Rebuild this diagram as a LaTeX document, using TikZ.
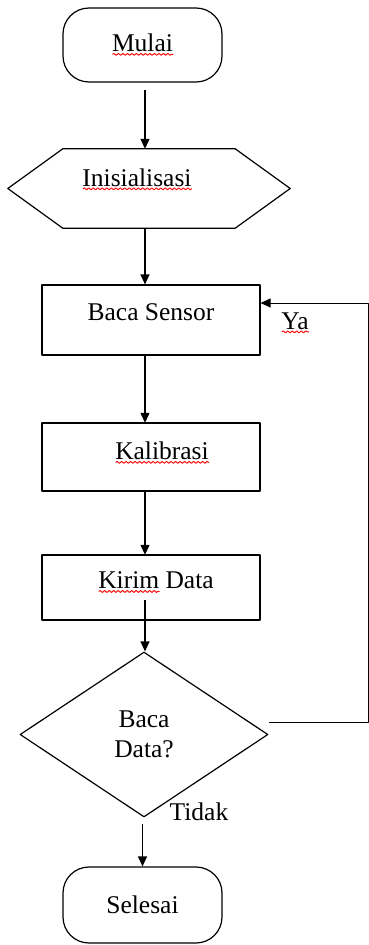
\documentclass[tikz,border=0pt]{standalone}
\usepackage{fontspec}
\setmainfont{Liberation Serif}
\usetikzlibrary{shapes.geometric,arrows.meta,decorations.pathmorphing}
\newdimen\lebarsalah
\newcommand\salah[1]{\setbox0=\hbox{#1}\lebarsalah=\wd0\rlap{\tikz[baseline=0pt,sharp corners]\draw[red,line width=0.9pt,decorate,decoration={snake,amplitude=1pt,segment length=4.5pt}] (0pt,-2.5pt) -- (\lebarsalah,-2.5pt);}\box0\relax}
\tikzset{
	term/.style={draw,rectangle,rounded corners=26pt,minimum width=159pt,minimum height=74pt},
	box/.style={draw,rectangle,minimum width=218pt,minimum height=68pt,text depth=12pt},
	hexa/.style={rectangle,minimum width=172pt,minimum height=79pt,text depth=22pt},
	dec/.style={draw,diamond,minimum width=248pt,minimum height=165pt,inner sep=0pt,align=center}
}
\begin{document}
\begin{tikzpicture}[x=1pt,y=-1pt,>={Triangle[length=10pt,width=9pt]},line join=round,line width=1.2pt,font=\fontsize{25.5}{30}\selectfont]
			\def \tip{55}
			\useasboundingbox (0,0) rectangle (369,945);
			\node[term] (mulai) at (142.5,45) {\salah{Mulai}};
			\node[hexa] (init) at (149,188.5) {\salah{Inisialisasi}\kern24pt};
			\draw (init.north west) -- (init.north east) -- ([xshift=\tip pt]init.east) -- (init.south east) -- (init.south west) -- ([xshift=-\tip pt]init.west) -- cycle;
			\node[box,minimum height=70pt,text depth=16pt] (bs) at (151,320) {Baca Sensor};
			\node[box] (kal) at (151,457) {\kern22pt\salah{Kalibrasi}};
			\node[box,minimum height=65pt,text depth=14pt] (kd) at (151,587.5) {\kern10pt\salah{Kirim} Data};
			\node[dec] (dia) at (144,734.5) {Baca\\Data?};
			\node[term,minimum height=76pt] (selesai) at (142.5,905) {Selesai};
			\node (ya) at (295,323) {\salah{Ya}};
			\node (tidak) at (199,812) {Tidak};
			\coordinate (sumbu) at (145,0);
			\coordinate (ka) at (368,722);
			\coordinate (kb) at (368,303);
			\draw[->,shorten <=8pt] (mulai.south -| sumbu) -- (init.north -| sumbu);
			\foreach \a/\b in {init/bs,bs/kal,kal/kd} \draw[->] (\a.south -| sumbu) -- (\b.north -| sumbu);
			\draw[->,shorten <=-20pt] (kd.south -| sumbu) -- (dia.north -| sumbu);
			\draw[->,shorten <=6pt] (dia.south -| selesai.north) -- (selesai.north);
			\draw[->,line width=1pt] (dia.east |- ka) -- (ka) -- (kb) -- (kb -| bs.east);
	\end{tikzpicture}
\end{document}
